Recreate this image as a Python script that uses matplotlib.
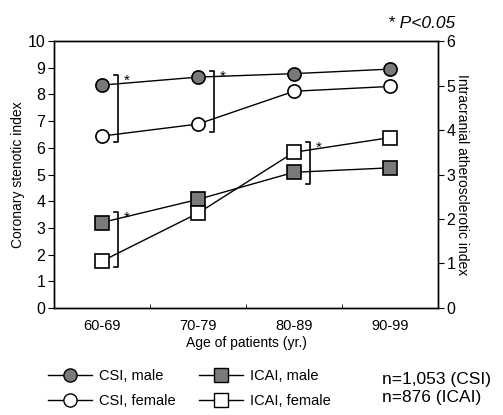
import numpy as np
import matplotlib.pyplot as plt
from matplotlib.lines import Line2D

plt.rcParams['font.family'] = ['Liberation Sans', 'DejaVu Sans']

ages = ["60-69", "70-79", "80-89", "90-99"]
csi_male = [8.35, 8.65, 8.78, 8.95]
csi_female = [6.44, 6.89, 8.12, 8.30]
icai_male = [1.92, 2.44, 3.05, 3.15]
icai_female = [1.05, 2.13, 3.50, 3.83]

# significance brackets: (category index, lower, upper, axis)
brackets = [(0, 6.22, 8.72, "left"), (1, 6.59, 8.88, "left"),
            (2, 2.79, 3.73, "right"), (0, 0.92, 2.16, "right")]

fig = plt.figure(figsize=(5.03, 4.15), dpi=100)
ax = fig.add_axes([0.107, 0.258, 0.764, 0.643])
ax2 = ax.twinx()

x = np.arange(len(ages)) + 0.5
gray = "#7a7a7a"
ms = 9.5

ax.plot(x, csi_male, "-o", color="black", lw=1, ms=ms, mfc=gray, mec="black", mew=1.2, zorder=3)
ax.plot(x, csi_female, "-o", color="black", lw=1, ms=ms, mfc="white", mec="black", mew=1.2, zorder=3)
ax2.plot(x, icai_male, "-s", color="black", lw=1, ms=ms, mfc=gray, mec="black", mew=1.2, zorder=3)
ax2.plot(x, icai_female, "-s", color="black", lw=1, ms=ms, mfc="white", mec="black", mew=1.2, zorder=3)

ax.set_xlim(0, 4)
ax.set_ylim(0, 10)
ax2.set_ylim(0, 6)

for i, lo, hi, side in brackets:
    a = ax if side == "left" else ax2
    bx = x[i] + 0.17
    a.plot([bx - 0.04, bx, bx, bx - 0.04], [lo, lo, hi, hi], color="black", lw=1.2)
    a.annotate("*", (bx, hi), xytext=(4, 1), textcoords="offset points",
               fontsize=11, ha="left", va="top")

ax.set_xticks(x)
ax.set_xticklabels(ages, fontsize=10.5)
ax.set_xticks([1, 2, 3], minor=True)
ax.tick_params(axis="x", which="major", length=0, pad=8)
ax.tick_params(axis="x", which="minor", direction="in", length=3)
ax.set_yticks(range(0, 11))
ax2.set_yticks(range(0, 7))
ax.tick_params(axis="y", labelsize=11.5, direction="out", length=4, pad=2)
ax2.tick_params(axis="y", labelsize=11.5, direction="out", length=4, pad=2)
ax.set_xlabel("Age of patients (yr.)", fontsize=10, labelpad=2)
ax.set_ylabel("Coronary stenotic index", fontsize=10, labelpad=2)
ax2.set_ylabel("Intracranial atherosclerotic index", fontsize=10, rotation=-90, labelpad=10)
for a in (ax, ax2):
    for s in a.spines.values():
        s.set_linewidth(1.0)

fig.text(0.905, 0.925, "* P<0.05", fontsize=12.5, style="italic", ha="right", va="bottom")

handles = [
    Line2D([], [], color="black", lw=1, marker="o", ms=ms, mfc=gray, mec="black"),
    Line2D([], [], color="black", lw=1, marker="o", ms=ms, mfc="white", mec="black"),
    Line2D([], [], color="black", lw=1, marker="s", ms=ms, mfc=gray, mec="black"),
    Line2D([], [], color="black", lw=1, marker="s", ms=ms, mfc="white", mec="black"),
]
labels = ["CSI, male", "CSI, female", "ICAI, male", "ICAI, female"]
fig.legend(handles, labels, ncol=2, loc="lower left", bbox_to_anchor=(0.07, -0.015),
           frameon=False, fontsize=10.5, handlelength=3.0, handletextpad=0.5,
           columnspacing=1.6, labelspacing=0.75)

fig.text(0.76, 0.025, "n=1,053 (CSI)\nn=876 (ICAI)", fontsize=12.5, ha="left", va="bottom", linespacing=1.25)

fig.savefig("out.png", dpi=100)
